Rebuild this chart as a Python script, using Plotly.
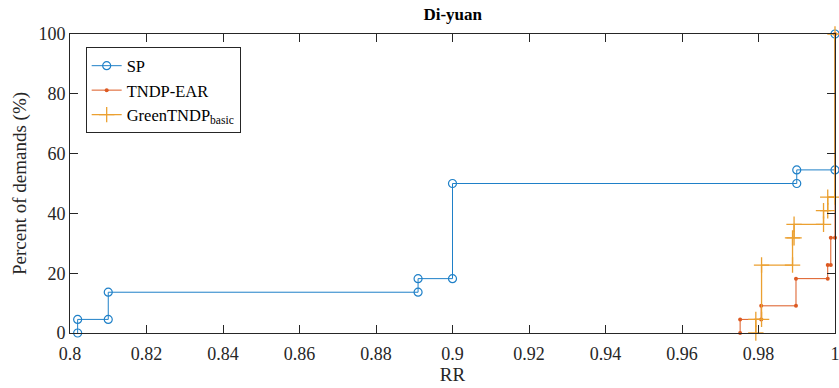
import plotly.graph_objects as go

# ---- data ----
TITLE = "Di-yuan"
X_TICK_VALUES = [0.8, 0.82, 0.84, 0.86, 0.88, 0.9, 0.92, 0.94, 0.96, 0.98, 1.0]
X_TICK_LABELS = ["0.8", "0.82", "0.84", "0.86", "0.88", "0.9", "0.92", "0.94", "0.96", "0.98", "1"]
Y_TICK_VALUES = [0, 20, 40, 60, 80, 100]

SP_RR = [0.802, 0.802, 0.810, 0.810, 0.891, 0.891, 0.900, 0.900, 0.990, 0.990, 1.000, 1.000]
SP_PCT = [0, 4.55, 4.55, 13.64, 13.64, 18.18, 18.18, 50.0, 50.0, 54.55, 54.55, 100]

EAR_RR = [0.9752, 0.9752, 0.9807, 0.9807, 0.9898, 0.9898, 0.9981, 0.9981, 0.9989, 0.9989, 1.000, 1.000]
EAR_PCT = [0, 4.55, 4.55, 9.09, 9.09, 18.18, 18.18, 22.73, 22.73, 31.82, 31.82, 100]

GREEN_RR = [0.9793, 0.9793, 0.9808, 0.9808, 0.9889, 0.9889, 0.9893, 0.9893, 0.9970, 0.9970, 0.9981, 0.9981, 1.000, 1.000]
GREEN_PCT = [0, 4.55, 4.55, 22.73, 22.73, 31.82, 31.82, 36.36, 36.36, 40.91, 40.91, 45.45, 45.45, 100]

BLUE = "#1F80C8"
RED = "#DD5A22"
ORANGE = "#EBA030"
AXIS = "#262626"
FONT = "Liberation Serif"

fig = go.Figure()
fig.add_trace(go.Scatter(
    x=SP_RR, y=SP_PCT, name="SP", mode="lines+markers",
    line=dict(color=BLUE, width=1),
    marker=dict(symbol="circle-open", size=8, color=BLUE, line=dict(width=1.2)),
    cliponaxis=False,
))
fig.add_trace(go.Scatter(
    x=EAR_RR, y=EAR_PCT, name="TNDP-EAR", mode="lines+markers",
    line=dict(color=RED, width=1),
    marker=dict(symbol="circle", size=4, color=RED),
    cliponaxis=False,
))
fig.add_trace(go.Scatter(
    x=GREEN_RR, y=GREEN_PCT, name="GreenTNDP<sub>basic</sub>", mode="lines+markers",
    line=dict(color=ORANGE, width=1.3),
    marker=dict(symbol="cross-thin-open", size=11, color=ORANGE, line=dict(width=1.3, color=ORANGE)),
    cliponaxis=False,
))

axis_common = dict(
    showline=True, linecolor=AXIS, linewidth=1, mirror="ticks",
    ticks="inside", ticklen=8, tickcolor=AXIS, tickwidth=1,
    showgrid=False, zeroline=False, ticklabeloverflow="allow",
    tickfont=dict(family=FONT, size=18, color=AXIS),
)

fig.update_layout(
    width=839, height=388,
    margin=dict(l=70, r=3.5, t=34, b=55, autoexpand=False),
    paper_bgcolor="white", plot_bgcolor="white",
    title=dict(text="<b>" + TITLE + "</b>", x=(70 + 835.5) / 2 / 839, xanchor="center",
               y=1 - 14 / 388, yanchor="middle",
               font=dict(family=FONT, size=17, color="black")),
    xaxis=dict(range=[0.8, 1.0], tickvals=X_TICK_VALUES, ticktext=X_TICK_LABELS,
               ticklabelstandoff=4,
               title=dict(text="RR", font=dict(family=FONT, size=19, color=AXIS), standoff=2),
               **axis_common),
    yaxis=dict(range=[0, 100], tickvals=Y_TICK_VALUES,
               title=dict(text="Percent of demands (%)", font=dict(family=FONT, size=19, color=AXIS), standoff=6),
               **axis_common),
    legend=dict(x=0.0205, y=0.955, xanchor="left", yanchor="top",
                bgcolor="white", bordercolor=AXIS, borderwidth=1,
                font=dict(family=FONT, size=16.5, color="black"),
                tracegroupgap=0),
    showlegend=True,
)

fig.write_html("out.html", config={"displayModeBar": False},
               post_script="document.body.style.margin='0';document.body.style.overflow='hidden';")
